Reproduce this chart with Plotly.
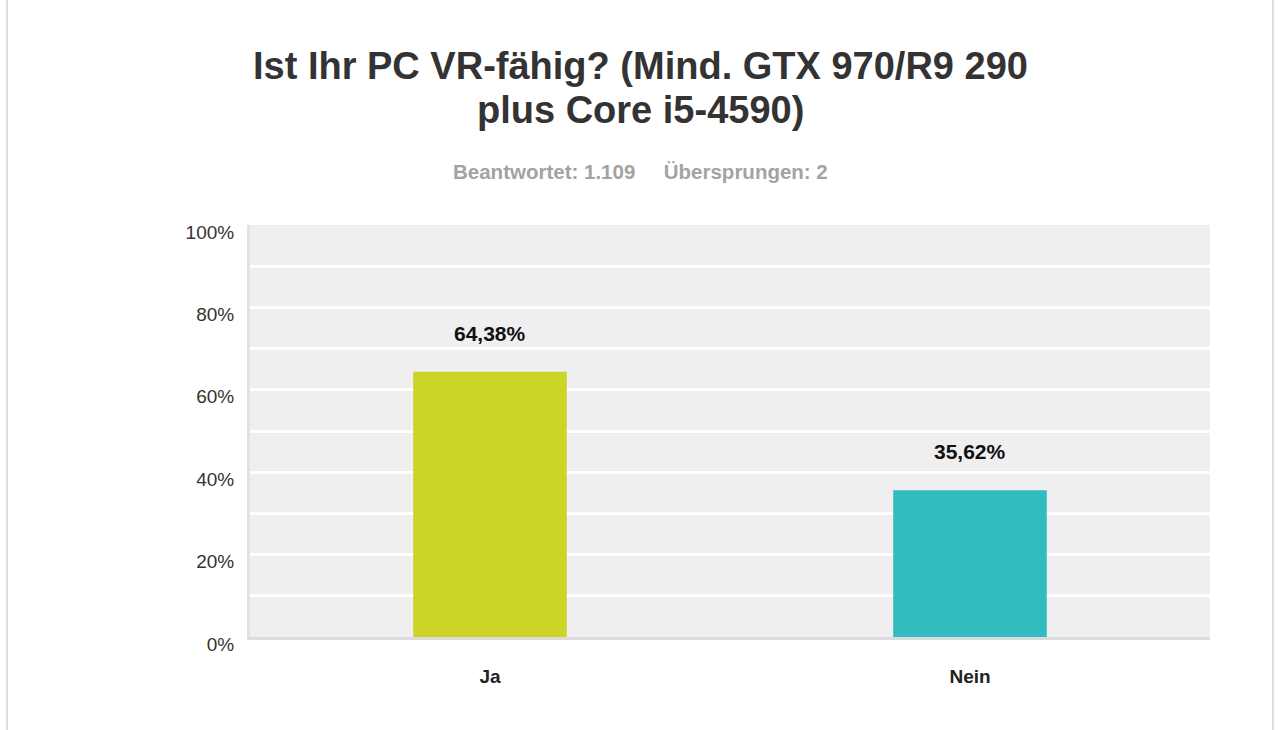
import plotly.graph_objects as go

categories = ["Ja", "Nein"]
values = [64.38, 35.62]
value_labels = ["64,38%", "35,62%"]
colors = ["#cdd428", "#33bcbe"]
tick_vals = [0, 20, 40, 60, 80, 100]
tick_text = ["0%", "20%", "40%", "60%", "80%", "100%"]
title_lines = ["Ist Ihr PC VR-fähig? (Mind. GTX 970/R9 290", "plus Core i5-4590)"]
subtitle = "Beantwortet: 1.109&nbsp;&nbsp;&nbsp;&nbsp; Übersprungen: 2"

FONT = "Liberation Sans, Arial"
fig = go.Figure()
fig.add_trace(go.Bar(x=categories, y=values, marker=dict(color=colors, line=dict(width=0)),
                     hoverinfo="skip"))

for c, v, t in zip(categories, values, value_labels):
    fig.add_annotation(x=c, y=v, text=t, showarrow=False, yanchor="bottom", yshift=25,
                       font=dict(family=FONT, size=21, color="#111111", weight="bold"))

cx = (640 - 250) / 960
for line, py in zip(title_lines, (66, 110)):
    fig.add_annotation(xref="paper", yref="paper", x=cx, y=1 + (225 - py) / 412,
                       text=line, showarrow=False, xanchor="center", yanchor="middle",
                       font=dict(family=FONT, size=38, color="#333333", weight="bold"))
fig.add_annotation(xref="paper", yref="paper", x=cx, y=1 + (225 - 171) / 412,
                   text=subtitle, showarrow=False, xanchor="center", yanchor="middle",
                   font=dict(family=FONT, size=20.5, color="#a3a3a3", weight="bold"))

# frame lines at page edges
for px in (7, 1273):
    fig.add_shape(type="line", xref="paper", yref="paper",
                  x0=(px - 250) / 960, x1=(px - 250) / 960, y0=-93 / 412, y1=1 + 225 / 412,
                  line=dict(color="#dddddd", width=2))

fig.update_layout(
    width=1280, height=730,
    margin=dict(l=250, r=70, t=225, b=93),
    paper_bgcolor="white", plot_bgcolor="#efefef",
    bargap=0.68, showlegend=False,
    xaxis=dict(showgrid=False, zeroline=False, showline=True, linecolor="#dcdcdc", linewidth=3,
               tickfont=dict(family=FONT, size=19, color="#222222", weight="bold"),
               ticks="", ticklabelstandoff=20, fixedrange=True),
    yaxis=dict(range=[0, 100], tickvals=tick_vals, ticktext=tick_text, showgrid=True,
               gridcolor="white", gridwidth=3, zeroline=False, showline=True, linecolor="#e2e2e2",
               linewidth=3, ticks="", ticklabelshift=7, ticklabelstandoff=9,
               minor=dict(dtick=10, showgrid=True, gridcolor="white", gridwidth=3),
               tickfont=dict(family=FONT, size=19, color="#333333"),
               fixedrange=True),
)

fig.write_html("out.html", config={"displayModeBar": False})
